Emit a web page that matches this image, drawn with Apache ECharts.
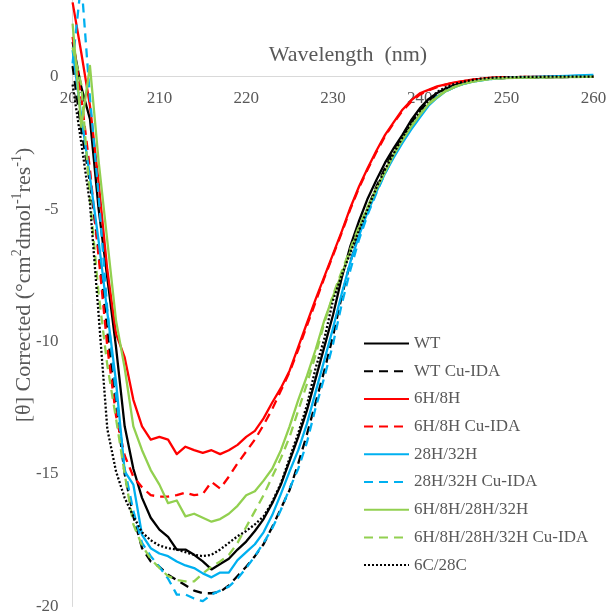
<!DOCTYPE html>
<html>
<head>
<meta charset="utf-8">
<script src="https://cdn.jsdelivr.net/npm/echarts@6/dist/echarts.min.js"></script>
<style>
html,body{margin:0;padding:0;background:#fff;}
#chart{width:609px;height:615px;}
</style>
</head>
<body>
<div id="chart"></div>
<script>
// Wavelength (nm)
const wavelengths = [200,201,202,203,204,205,206,207,208,209,210,211,212,213,214,215,216,217,218,219,220,221,222,223,224,225,226,227,228,229,230,231,232,233,234,235,236,237,238,239,240,241,242,243,244,245,246,247,248,249,250,251,252,253,254,255,256,257,258,259,260];
const xTicks = [200,210,220,230,240,250,260];
const yTicks = [-20,-15,-10,-5,0];

const seriesNames = ['WT','WT Cu-IDA','6H/8H','6H/8H Cu-IDA','28H/32H','28H/32H Cu-IDA','6H/8H/28H/32H','6H/8H/28H/32H Cu-IDA','6C/28C'];

const wt = [1.3,-0.4,-1.6,-5.0,-7.6,-10.2,-13.2,-14.8,-15.9,-16.65,-17.1,-17.37,-17.85,-17.85,-18.05,-18.3,-18.6,-18.4,-18.2,-17.85,-17.55,-17.15,-16.7,-16.1,-15.4,-14.5,-13.6,-12.6,-11.4,-10.2,-9.0,-7.6,-6.4,-5.45,-4.6,-3.9,-3.25,-2.7,-2.2,-1.65,-1.2,-0.85,-0.62,-0.45,-0.32,-0.23,-0.16,-0.11,-0.08,-0.06,-0.05,-0.04,-0.03,-0.03,-0.02,-0.02,-0.02,-0.01,-0.01,-0.01,-0.01];
const wtCu = [0.4,-2.0,-4.0,-6.6,-9.6,-12.4,-15.0,-16.6,-17.8,-18.3,-18.5,-18.8,-19.0,-19.2,-19.4,-19.5,-19.5,-19.45,-19.2,-18.85,-18.5,-18.1,-17.65,-17.0,-16.3,-15.6,-14.6,-13.5,-12.3,-11.1,-9.8,-8.3,-7.0,-5.9,-4.95,-4.15,-3.45,-2.8,-2.25,-1.75,-1.3,-0.95,-0.7,-0.5,-0.35,-0.25,-0.18,-0.12,-0.09,-0.07,-0.05,-0.04,-0.04,-0.03,-0.03,-0.02,-0.02,-0.02,-0.01,-0.01,-0.01];
const h6h8 = [2.8,0.9,-1.1,-4.0,-7.3,-9.7,-10.6,-12.2,-13.2,-13.7,-13.6,-13.7,-14.25,-13.97,-14.1,-14.2,-14.1,-14.25,-14.1,-13.9,-13.6,-13.37,-12.9,-12.3,-11.75,-11.1,-10.2,-9.3,-8.4,-7.55,-6.7,-5.85,-4.95,-4.15,-3.45,-2.8,-2.2,-1.72,-1.25,-0.9,-0.63,-0.5,-0.37,-0.29,-0.22,-0.17,-0.12,-0.09,-0.05,-0.03,-0.02,-0.02,-0.01,-0.01,-0.01,0,0,0,0,0,0];
const h6h8Cu = [1.5,-0.8,-3.5,-6.8,-10.2,-12.8,-14.3,-15.1,-15.5,-15.8,-15.85,-15.85,-15.8,-15.7,-15.8,-15.75,-15.3,-15.55,-15.1,-14.6,-14.15,-13.7,-13.15,-12.55,-11.85,-11.15,-10.3,-9.4,-8.5,-7.6,-6.75,-5.9,-5.0,-4.2,-3.5,-2.85,-2.25,-1.75,-1.3,-0.95,-0.68,-0.52,-0.4,-0.3,-0.23,-0.17,-0.12,-0.09,-0.06,-0.04,-0.03,-0.02,-0.02,-0.01,-0.01,-0.01,0,0,0,0,0];
const h28h32 = [1.0,-1.5,-3.8,-6.2,-8.9,-11.5,-14.9,-15.4,-17.3,-17.8,-18.0,-18.1,-18.3,-18.45,-18.55,-18.75,-18.9,-18.72,-18.72,-18.25,-17.95,-17.65,-17.2,-16.55,-15.75,-14.9,-14.1,-13.1,-11.9,-10.7,-9.5,-8.2,-7.0,-6.0,-5.1,-4.35,-3.65,-3.05,-2.5,-2.0,-1.55,-1.1,-0.8,-0.55,-0.4,-0.28,-0.2,-0.14,-0.1,-0.07,-0.05,-0.03,-0.02,-0.01,0,0.01,0.02,0.03,0.04,0.05,0.06];
const h28h32Cu = [0.5,3.6,-0.8,-4.5,-8.8,-12.0,-14.8,-16.4,-17.6,-18.1,-18.5,-18.95,-19.55,-19.55,-19.7,-19.8,-19.55,-19.4,-19.25,-18.95,-18.55,-18.1,-17.6,-17.05,-16.35,-15.55,-14.8,-13.8,-12.5,-11.35,-10.1,-8.6,-7.3,-6.15,-5.2,-4.4,-3.65,-3.0,-2.45,-1.9,-1.45,-1.05,-0.75,-0.55,-0.4,-0.28,-0.2,-0.14,-0.1,-0.07,-0.05,-0.04,-0.03,-0.02,-0.02,-0.01,-0.01,0,0,0,0];
const hAll = [2.0,-1.9,0.4,-3.2,-6.2,-9.2,-11.0,-13.2,-14.1,-14.85,-15.4,-16.1,-16.0,-16.6,-16.5,-16.65,-16.8,-16.7,-16.5,-16.2,-15.8,-15.65,-15.25,-14.8,-14.1,-13.2,-12.2,-11.3,-10.3,-9.2,-8.3,-7.45,-6.6,-5.7,-4.95,-4.25,-3.6,-2.95,-2.4,-1.9,-1.45,-1.05,-0.78,-0.55,-0.4,-0.28,-0.2,-0.14,-0.1,-0.07,-0.06,-0.05,-0.04,-0.04,-0.03,-0.03,-0.02,-0.02,-0.02,-0.01,-0.01];
const hAllCu = [1.1,-0.3,-4.6,-8.2,-10.9,-12.9,-15.0,-16.9,-17.7,-18.2,-18.55,-18.85,-19.0,-19.05,-19.05,-18.75,-18.5,-18.3,-18.05,-17.6,-17.0,-16.4,-15.8,-15.1,-14.4,-13.6,-12.6,-11.6,-10.5,-9.3,-8.25,-7.35,-6.5,-5.65,-4.9,-4.2,-3.55,-2.9,-2.35,-1.85,-1.4,-1.02,-0.75,-0.53,-0.38,-0.27,-0.19,-0.13,-0.09,-0.07,-0.05,-0.04,-0.03,-0.03,-0.02,-0.02,-0.02,-0.01,-0.01,-0.01,-0.01];
const c6c28 = [-0.3,-2.5,-4.8,-9.0,-13.3,-14.9,-15.9,-16.6,-17.2,-17.5,-17.7,-17.8,-17.85,-17.95,-18.05,-18.1,-18.05,-17.85,-17.6,-17.35,-17.15,-16.9,-16.6,-16.05,-15.35,-14.4,-13.45,-12.4,-11.0,-9.9,-8.45,-7.5,-6.65,-5.8,-5.0,-4.2,-3.5,-2.9,-2.3,-1.75,-1.3,-0.9,-0.58,-0.4,-0.28,-0.2,-0.13,-0.08,-0.05,-0.03,-0.02,-0.02,-0.01,-0.01,-0.01,0,0,0,0,0,0];

const seriesValues = [wt, wtCu, h6h8, h6h8Cu, h28h32, h28h32Cu, hAll, hAllCu, c6c28];
const seriesColors = ['#000000','#000000','#FF0000','#FF0000','#00B0F0','#00B0F0','#92D050','#92D050','#000000'];
const seriesDash = ['solid',[9,6],'solid',[9,6],'solid',[9,6],'solid',[9,6],[2,2]];

const FONT = '"Liberation Serif", "Times New Roman", serif';
const GREY = '#595959';
const Y_MAX = 2.89;
const GRID_TOP = 0, GRID_BOTTOM = 8.5, H = 615;
// pixel offset of the zero line from the top of the grid (via the y scale)
const zeroOffset = (H - GRID_TOP - GRID_BOTTOM) * Y_MAX / (Y_MAX - yTicks[0]);

const chart = echarts.init(document.getElementById('chart'), null, {renderer:'canvas'});

const series = seriesNames.map((name, i) => ({
  name: name,
  type: 'line',
  symbol: 'none',
  showSymbol: false,
  clip: true,
  animation: false,
  data: wavelengths.map((w, j) => [w, seriesValues[i][j]]),
  lineStyle: { color: seriesColors[i], width: 2.3, type: seriesDash[i], cap: 'butt', join: 'round' },
  itemStyle: { color: seriesColors[i] }
}));

chart.setOption({
  animation: false,
  backgroundColor: '#ffffff',
  grid: { left: 72.6, right: 15.6, top: GRID_TOP, bottom: GRID_BOTTOM, containLabel: false, outerBoundsMode: 'none' },
  xAxis: {
    type: 'value',
    position: 'top',
    offset: -zeroOffset,
    min: xTicks[0], max: xTicks[xTicks.length-1], interval: 10,
    axisLine: { show: true, onZero: false, lineStyle: { color: '#D9D9D9', width: 1 } },
    axisTick: { show: false },
    splitLine: { show: false },
    axisLabel: { inside: true, color: GREY, fontFamily: FONT, fontSize: 17, margin: 13 }
  },
  yAxis: {
    type: 'value',
    min: yTicks[0], max: Y_MAX, interval: 5,
    axisLine: { show: true, lineStyle: { color: '#D9D9D9', width: 1 } },
    axisTick: { show: false },
    splitLine: { show: false },
    axisLabel: { color: GREY, fontFamily: FONT, fontSize: 17, margin: 14, showMaxLabel: false }
  },
  legend: {
    orient: 'vertical',
    left: 358, top: 330,
    itemWidth: 45, itemHeight: 14, itemGap: 10.7,
    data: seriesNames,
    itemStyle: { opacity: 0, borderWidth: 0 },
    textStyle: { color: GREY, fontFamily: FONT, fontSize: 17 }
  },
  graphic: [
    { type: 'text', x: 348, y: 55,
      style: { text: 'Wavelength  (nm)', fill: GREY, font: '22px ' + FONT, align: 'center', verticalAlign: 'middle' } },
    { type: 'text', x: 23, y: 285, rotation: Math.PI / 2,
      style: {
        text: '{n|[θ] Corrected (°cm}{s|2}{n|dmol}{s|-1}{n|res}{s|-1}{n|)}',
        align: 'center', verticalAlign: 'middle',
        rich: {
          n: { fontFamily: FONT, fontSize: 22, fill: GREY, lineHeight: 25, verticalAlign: 'bottom' },
          s: { fontFamily: FONT, fontSize: 14, fill: GREY, lineHeight: 25, verticalAlign: 'top' }
        }
      } }
  ],
  series: series
});
</script>
</body>
</html>
